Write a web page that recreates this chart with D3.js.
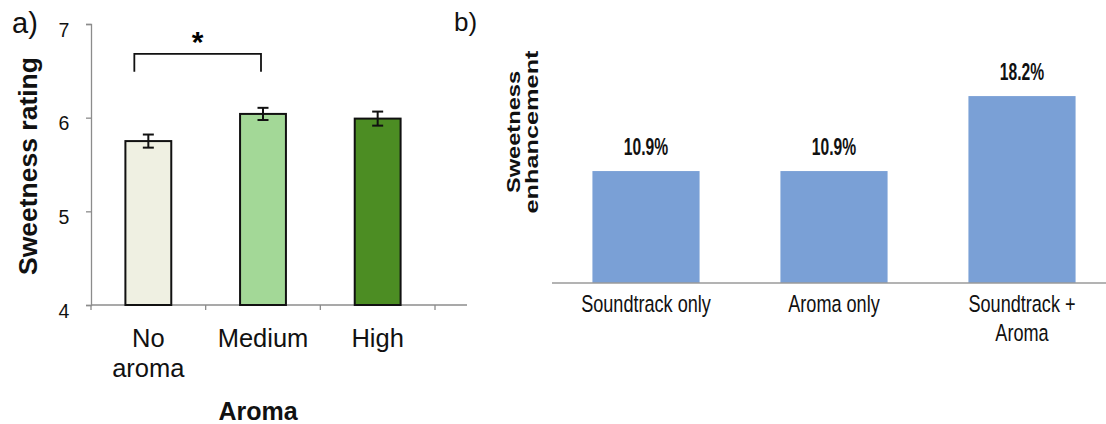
<!DOCTYPE html>
<html>
<head>
<meta charset="utf-8">
<script src="https://cdn.jsdelivr.net/npm/d3@7"></script>
<style>
  html, body { margin: 0; padding: 0; background: #fff; }
  svg { display: block; }
  .sans { font-family: "Liberation Sans", Arial, Helvetica, sans-serif; }
</style>
</head>
<body>
<svg id="chart" width="1106" height="424"></svg>
<script>
// Panel a: mean sweetness rating by aroma level (± SE)
const aromaLevels = ["No aroma", "Medium", "High"];
const aromaLabelLines = [["No", "aroma"], ["Medium"], ["High"]];
const ratingMeans = [5.75, 6.04, 5.99];
const ratingErrors = [0.07, 0.065, 0.075];
const ratingTicks = [4, 5, 6, 7];
const barColorsA = ["#eff0e2", "#a3d897", "#4c8d23"];

// Panel b: sweetness enhancement per condition (%)
const conditions = ["Soundtrack only", "Aroma only", "Soundtrack + Aroma"];
const conditionLabelLines = [["Soundtrack only"], ["Aroma only"], ["Soundtrack +", "Aroma"]];
const enhancement = [10.9, 10.9, 18.2];

const svg = d3.select("#chart");

// ---------- Panel a ----------
const xA = d3.scaleBand().domain(aromaLevels).range([91, 435]).padding(0);
const yA = d3.scaleLinear().domain([4, 7]).range([305, 24]);
const barWA = xA.bandwidth() * 0.4;
const axisGray = "#8c8c8c";

const gA = svg.append("g");

// y axis
const yAxis = gA.append("g")
  .attr("transform", `translate(${xA.range()[0]},0)`)
  .call(d3.axisLeft(yA).tickValues(ratingTicks).tickSize(5).tickFormat(d3.format("d")));
yAxis.select(".domain").attr("stroke", axisGray).attr("stroke-width", 1.3);
yAxis.selectAll(".tick line").attr("stroke", axisGray).attr("stroke-width", 1.3);
yAxis.selectAll(".tick text")
  .attr("class", "sans").attr("font-size", 19.5).attr("fill", "#111")
  .attr("x", -27).attr("dy", "0.62em").attr("text-anchor", "middle");

// x axis: baseline with ticks at band edges
const edgeTicks = aromaLevels.map(d => xA(d)).concat([xA.range()[1]]);
gA.append("line")
  .attr("x1", xA.range()[0]).attr("x2", 467)
  .attr("y1", yA(4)).attr("y2", yA(4))
  .attr("stroke", axisGray).attr("stroke-width", 1.3);
gA.selectAll(".xtickA").data(edgeTicks).join("line")
  .attr("x1", d => d).attr("x2", d => d)
  .attr("y1", yA(4)).attr("y2", yA(4) + 5)
  .attr("stroke", axisGray).attr("stroke-width", 1.3);

// bars
gA.selectAll(".barA").data(aromaLevels).join("rect")
  .attr("x", d => xA(d) + (xA.bandwidth() - barWA) / 2)
  .attr("y", (d, i) => yA(ratingMeans[i]))
  .attr("width", barWA)
  .attr("height", (d, i) => yA(4) - yA(ratingMeans[i]))
  .attr("fill", (d, i) => barColorsA[i])
  .attr("stroke", "#111").attr("stroke-width", 2);

// error bars
const capW = 5.5;
aromaLevels.forEach((d, i) => {
  const cx = xA(d) + xA.bandwidth() / 2;
  const hi = yA(ratingMeans[i] + ratingErrors[i]);
  const lo = yA(ratingMeans[i] - ratingErrors[i]);
  const e = gA.append("g").attr("stroke", "#111").attr("stroke-width", 2);
  e.append("line").attr("x1", cx).attr("x2", cx).attr("y1", hi).attr("y2", lo);
  e.append("line").attr("x1", cx - capW).attr("x2", cx + capW).attr("y1", hi).attr("y2", hi);
  e.append("line").attr("x1", cx - capW).attr("x2", cx + capW).attr("y1", lo).attr("y2", lo);
});

// x tick labels
aromaLabelLines.forEach((lines, i) => {
  const cx = xA(aromaLevels[i]) + xA.bandwidth() / 2;
  const t = gA.append("text").attr("class", "sans")
    .attr("font-size", 25.5).attr("fill", "#111").attr("text-anchor", "middle")
    .attr("x", cx).attr("y", 347);
  lines.forEach((ln, j) => t.append("tspan").attr("x", cx).attr("dy", j ? 30 : 0).text(ln));
});

// significance bracket between No aroma and Medium
const bx1 = xA(aromaLevels[0]) + xA.bandwidth() / 2 - 14;
const bx2 = xA(aromaLevels[1]) + xA.bandwidth() / 2 - 2;
const bTop = yA(6.68), bLeg = yA(6.49);
gA.append("path")
  .attr("d", `M${bx1},${bLeg}V${bTop}H${bx2}V${bLeg}`)
  .attr("fill", "none").attr("stroke", "#111").attr("stroke-width", 1.8);
gA.append("text").attr("class", "sans").attr("font-weight", "bold")
  .attr("font-size", 30).attr("text-anchor", "middle")
  .attr("x", (bx1 + bx2) / 2).attr("y", 52).text("*");

// axis titles and panel letter
gA.append("text").attr("class", "sans").attr("font-weight", "bold")
  .attr("font-size", 26.5).attr("text-anchor", "middle").attr("fill", "#111")
  .attr("transform", "translate(37,166) rotate(-90)").text("Sweetness rating");
gA.append("text").attr("class", "sans").attr("font-weight", "bold")
  .attr("font-size", 25).attr("text-anchor", "middle").attr("fill", "#111")
  .attr("x", 258).attr("y", 420).text("Aroma");
gA.append("text").attr("class", "sans")
  .attr("font-size", 29).attr("fill", "#111")
  .attr("x", 12).attr("y", 33).text("a)");

// ---------- Panel b ----------
const xB = d3.scaleBand().domain(conditions).range([552, 1116]).padding(0);
const yB = d3.scaleLinear().domain([0, 20]).range([283, 77.6]);
const barWB = xB.bandwidth() * 0.57;
const gB = svg.append("g");

gB.selectAll(".barB").data(conditions).join("rect")
  .attr("x", d => xB(d) + (xB.bandwidth() - barWB) / 2)
  .attr("y", (d, i) => yB(enhancement[i]))
  .attr("width", barWB)
  .attr("height", (d, i) => yB(0) - yB(enhancement[i]))
  .attr("fill", "#7aa0d6");

gB.append("line")
  .attr("x1", xB.range()[0]).attr("x2", 1106)
  .attr("y1", yB(0)).attr("y2", yB(0))
  .attr("stroke", "#9a9a9a").attr("stroke-width", 1.6);

// value labels (condensed)
conditions.forEach((d, i) => {
  const cx = xB(d) + xB.bandwidth() / 2;
  gB.append("g")
    .attr("transform", `translate(${cx},${yB(enhancement[i]) - 16}) scale(0.68,1)`)
    .append("text").attr("class", "sans").attr("font-weight", "bold")
    .attr("font-size", 23).attr("fill", "#111").attr("text-anchor", "middle")
    .text(d3.format(".1f")(enhancement[i]) + "%");
});

// category labels (condensed)
conditionLabelLines.forEach((lines, i) => {
  const cx = xB(conditions[i]) + xB.bandwidth() / 2;
  const t = gB.append("g")
    .attr("transform", `translate(${cx},312) scale(0.77,1)`)
    .append("text").attr("class", "sans")
    .attr("font-size", 23.5).attr("fill", "#111").attr("text-anchor", "middle");
  lines.forEach((ln, j) => t.append("tspan").attr("x", 0).attr("y", j * 29).text(ln));
});

// y title (two lines, stretched along the text)
const yt = gB.append("text").attr("class", "sans").attr("font-weight", "bold")
  .attr("font-size", 19).attr("fill", "#111").attr("text-anchor", "middle")
  .attr("transform", "translate(520,132) rotate(-90)");
yt.append("tspan").attr("x", 0).attr("y", 0)
  .attr("textLength", 122).attr("lengthAdjust", "spacingAndGlyphs").text("Sweetness");
yt.append("tspan").attr("x", 0).attr("y", 18)
  .attr("textLength", 163).attr("lengthAdjust", "spacingAndGlyphs").text("enhancement");

gB.append("text").attr("class", "sans")
  .attr("font-size", 26).attr("fill", "#111")
  .attr("x", 454).attr("y", 31).text("b)");
</script>
</body>
</html>
